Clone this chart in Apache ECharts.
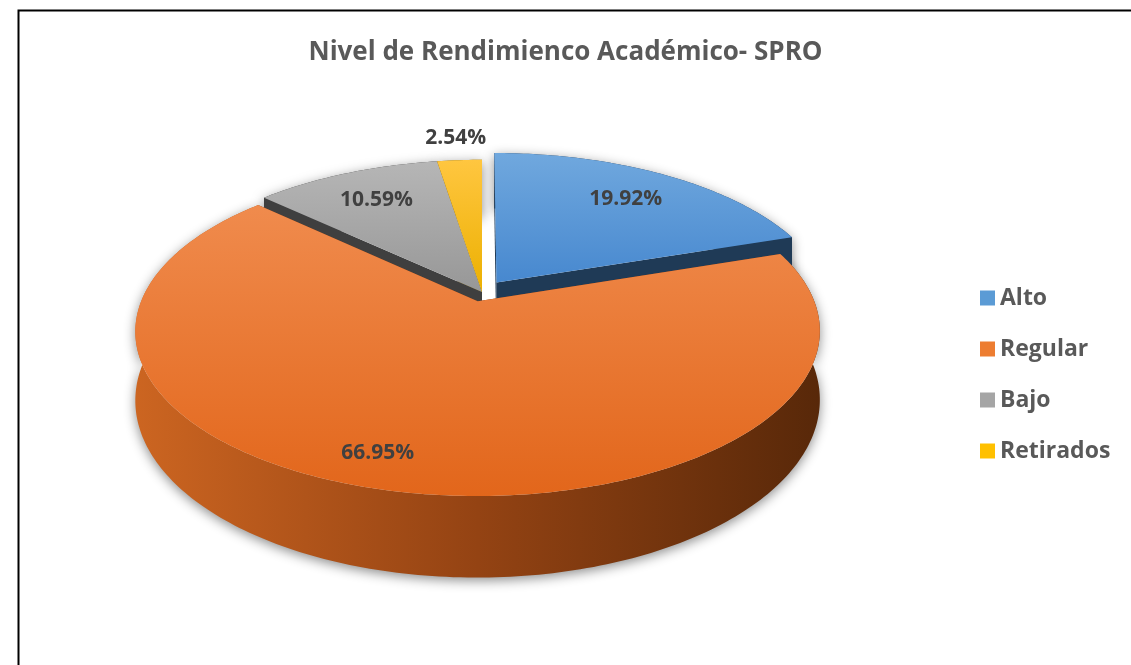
<!DOCTYPE html>
<html>
<head>
<meta charset="utf-8">
<title>Nivel de Rendimienco Académico- SPRO</title>
<script src="https://cdn.jsdelivr.net/npm/echarts@6/dist/echarts.min.js"></script>
<style>
  html, body { margin: 0; padding: 0; background: #fff; }
  #chart { width: 1131px; height: 665px; }
</style>
</head>
<body>
<div id="chart"></div>
<script>
// datos del grafico
var categories = ['Alto', 'Regular', 'Bajo', 'Retirados'];
var values = [19.92, 66.95, 10.59, 2.54];

// estilos de cada porcion
var legendColors = ['#5b9bd5', '#ed7d31', '#a5a5a5', '#ffc000'];
var topColors = [['#70a8de', '#4788cf'], ['#f08b4d', '#e2661b'], ['#b6b6b6', '#979797'], ['#ffc640', '#ecb000']];
var faceColors = ['#1f3a56', '#7a3810', '#3f3f3f', '#7f6000'];
var explode = [0.075, 0.06, 0, 0];

// proyeccion del pastel 3D
var CX = 482, CY = 292, RX = 333, RY = 156, PERS = 0.18, DEPTH = 66;
var FONT = '"Open Sans", "Noto Sans", sans-serif';

function total() {
  var s = 0;
  for (var k = 0; k < values.length; k++) s += values[k];
  return s;
}

function makeRender(idx) {
  return function (params, api) {
    var val = api.value(0);
    var tot = total();
    var before = 0;
    for (var k = 0; k < idx; k++) before += values[k];
    var a0 = before / tot * 360;
    var a1 = a0 + val / tot * 360;
    var mid = (a0 + a1) / 2;
    var e = explode[idx];
    var ex = e * Math.sin(mid * Math.PI / 180);
    var ey = -e * Math.cos(mid * Math.PI / 180);

    function P(r, deg, h) {
      var t = deg * Math.PI / 180;
      var u = ex + r * Math.sin(t);
      var v = ey - r * Math.cos(t);
      var w = 1 - PERS * v;
      return [CX + RX * u / w, CY + RY * v / w + DEPTH * h / w];
    }
    function arc(h) {
      var pts = [];
      var n = Math.max(2, Math.ceil(a1 - a0));
      for (var j = 0; j <= n; j++) pts.push(P(1, a0 + (a1 - a0) * j / n, h));
      return pts;
    }
    // profundidad de la cara radial (mas cerca = se dibuja despues)
    function faceZ(deg) {
      return 3 + (ey - 0.5 * Math.cos(deg * Math.PI / 180));
    }

    var topArc = arc(0);
    var botArc = arc(1).reverse();
    var topPts = [P(0, 0, 0)].concat(topArc);
    var wallPts = topArc.concat(botArc);

    var wallFill = idx === 1 ? {
      type: 'linear', x: 0, y: 0, x2: 1, y2: 0,
      colorStops: [{offset: 0, color: '#cc6521'}, {offset: 0.5, color: '#944313'}, {offset: 1, color: '#582809'}]
    } : faceColors[idx];

    var pct = val / tot * 100;
    var lr = pct < 5 ? 1.2 : (pct > 50 ? 0.85 : 0.75);
    var la = pct > 50 ? mid + 5 : mid; // la etiqueta grande va un poco a la izquierda
    var lp = P(lr, la, 0);

    return {
      type: 'group',
      children: [
        {
          type: 'polygon', z2: 1,
          shape: {points: wallPts},
          style: {fill: wallFill, shadowBlur: 12, shadowOffsetY: 3, shadowColor: 'rgba(0,0,0,0.45)'}
        },
        {
          type: 'polygon', z2: faceZ(a0),
          shape: {points: [P(0, a0, 0), P(1, a0, 0), P(1, a0, 1), P(0, a0, 1)]},
          style: {fill: faceColors[idx]}
        },
        {
          type: 'polygon', z2: faceZ(a1),
          shape: {points: [P(0, a1, 0), P(1, a1, 0), P(1, a1, 1), P(0, a1, 1)]},
          style: {fill: faceColors[idx]}
        },
        {
          type: 'polygon', z2: 10,
          shape: {points: topPts},
          style: {
            fill: {
              type: 'linear', x: 0, y: 0, x2: 0, y2: 1,
              colorStops: [{offset: 0, color: topColors[idx][0]}, {offset: 1, color: topColors[idx][1]}]
            }
          }
        },
        {
          type: 'text', z2: 20,
          x: lp[0], y: lp[1],
          style: {
            text: pct.toFixed(2) + '%',
            fill: '#404040',
            font: 'bold 21px ' + FONT,
            align: 'center',
            verticalAlign: 'middle'
          }
        }
      ]
    };
  };
}

var seriesList = categories.map(function (name, i) {
  return {
    type: 'custom',
    name: name,
    coordinateSystem: 'none',
    itemStyle: {color: legendColors[i]},
    data: [values[i]],
    renderItem: makeRender(i)
  };
});

var chart = echarts.init(document.getElementById('chart'));
chart.setOption({
  animation: false,
  title: {
    text: 'Nivel de Rendimienco Académico- SPRO',
    left: 'center',
    top: 35,
    textStyle: {color: '#595959', fontSize: 26, fontWeight: 'bold', fontFamily: FONT}
  },
  legend: {
    orient: 'vertical',
    left: 975,
    top: 281,
    icon: 'rect',
    itemWidth: 15,
    itemHeight: 15,
    itemGap: 27,
    data: categories,
    textStyle: {color: '#595959', fontSize: 23, fontWeight: 'bold', fontFamily: FONT, lineHeight: 24}
  },
  graphic: [{
    type: 'rect',
    shape: {x: 18.5, y: 10.5, width: 1200, height: 700},
    style: {fill: 'none', stroke: '#000', lineWidth: 2}
  }],
  series: seriesList
});
</script>
</body>
</html>
